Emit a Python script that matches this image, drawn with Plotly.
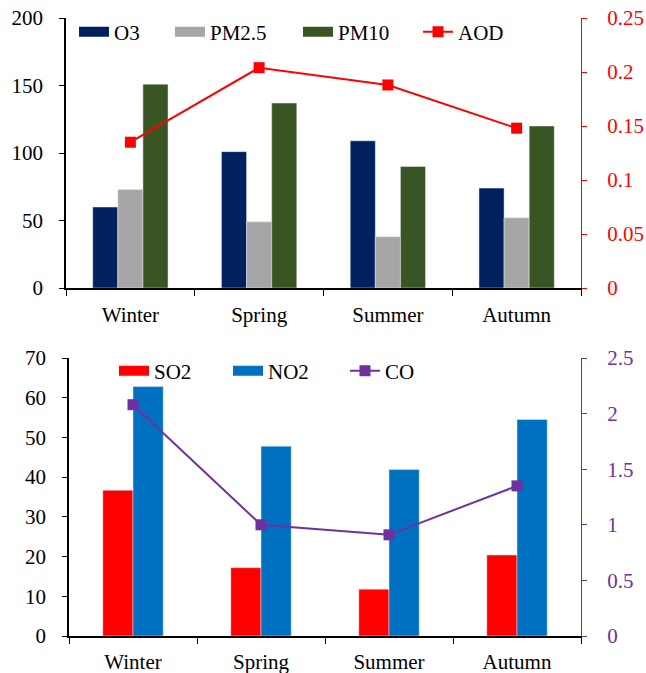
import plotly.graph_objects as go

seasons = ["Winter", "Spring", "Summer", "Autumn"]
o3 = [60, 101, 109, 74]
pm25 = [73, 49, 38, 52]
pm10 = [151, 137, 90, 120]
aod = [0.135, 0.204, 0.188, 0.148]

so2 = [36.7, 17.2, 11.8, 20.4]
no2 = [62.8, 47.8, 41.9, 54.5]
co = [2.08, 1.0, 0.91, 1.35]

FONT = "Liberation Serif"
FS = 21

fig = go.Figure()

bw1 = 0.195
for name, vals, col, off in [("O3", o3, "#002060", -1.5 * bw1),
                             ("PM2.5", pm25, "#A6A6A6", -0.5 * bw1),
                             ("PM10", pm10, "#3A5524", 0.5 * bw1)]:
    fig.add_trace(go.Bar(x=seasons, y=vals, name=name, marker_color=col,
                         width=bw1, offset=off, xaxis="x", yaxis="y",
                         showlegend=False))

fig.add_trace(go.Scatter(x=seasons, y=aod, name="AOD", mode="lines+markers",
                         line=dict(color="#FF0000", width=2),
                         marker=dict(symbol="square", size=11, color="#FF0000"),
                         xaxis="x", yaxis="y2", legend="legend4"))

bw2 = 0.236
for name, vals, col, off in [("SO2", so2, "#FF0000", -bw2),
                             ("NO2", no2, "#0070C0", 0.0)]:
    fig.add_trace(go.Bar(x=seasons, y=vals, name=name, marker_color=col,
                         width=bw2, offset=off, xaxis="x2", yaxis="y3",
                         showlegend=False))

fig.add_trace(go.Scatter(x=seasons, y=co, name="CO", mode="lines+markers",
                         line=dict(color="#7030A0", width=2),
                         marker=dict(symbol="square", size=11, color="#7030A0"),
                         xaxis="x2", yaxis="y4", legend="legend7"))

for name, col, lg, xa, ya in [("O3", "#002060", "legend", "x", "y"),
                              ("PM2.5", "#A6A6A6", "legend2", "x", "y"),
                              ("PM10", "#3A5524", "legend3", "x", "y"),
                              ("SO2", "#FF0000", "legend5", "x2", "y3"),
                              ("NO2", "#0070C0", "legend6", "x2", "y3")]:
    fig.add_trace(go.Scatter(x=[None], y=[None], name=name, mode="lines",
                             line=dict(color=col, width=10),
                             xaxis=xa, yaxis=ya, legend=lg, showlegend=True))

W, H = 646, 673
L, R, T, B = 66, 65, 18, 37
pw = W - L - R
ph = H - T - B


def px_x(p):
    return (p - L) / pw


def px_y(p):
    return (H - B - p) / ph


top_bottom = px_y(288)
bot_top = px_y(358)

tickfont = dict(family=FONT, size=FS, color="black")


def leg(xpix, ypix):
    return dict(x=px_x(xpix), y=px_y(ypix), xanchor="left", yanchor="middle",
                orientation="h", bgcolor="rgba(0,0,0,0)", itemwidth=30,
                font=dict(family=FONT, size=FS, color="black"))


xcommon = dict(type="category", categoryorder="array", categoryarray=seasons,
               showline=True, linecolor="black", linewidth=2, ticks="outside",
               tickson="boundaries", ticklen=6, tickcolor="black", showgrid=False,
               automargin=False, tickfont=tickfont)
ycommon = dict(showline=True, ticks="outside", ticklen=5, showgrid=False,
               zeroline=False, automargin=False)

fig.update_layout(
    width=W, height=H,
    margin=dict(l=L, r=R, t=T, b=B, autoexpand=False),
    paper_bgcolor="white", plot_bgcolor="white",
    font=dict(family=FONT, size=FS, color="black"),
    xaxis=dict(domain=[0, 1], anchor="y", ticklabelstandoff=7, **xcommon),
    yaxis=dict(domain=[top_bottom, 1], anchor="x", range=[0, 200], dtick=50,
               linecolor="black", linewidth=1.5, tickcolor="black",
               tickfont=tickfont, ticklabelstandoff=12, **ycommon),
    yaxis2=dict(overlaying="y", side="right", anchor="x", range=[0, 0.25], dtick=0.05,
                linecolor="#FF0000", linewidth=1, tickcolor="#FF0000",
                tickfont=dict(family=FONT, size=FS, color="#FF0000"),
                ticklabelstandoff=16, **ycommon),
    xaxis2=dict(domain=[px_x(69), 1], anchor="y3", ticklabelstandoff=6, **xcommon),
    yaxis3=dict(domain=[0, bot_top], anchor="x2", range=[0, 70], dtick=10,
                linecolor="black", linewidth=1.5, tickcolor="black",
                tickfont=tickfont, ticklabelstandoff=12, **ycommon),
    yaxis4=dict(overlaying="y3", side="right", anchor="x2", range=[0, 2.5], dtick=0.5,
                linecolor="#7030A0", linewidth=1, tickcolor="#7030A0",
                tickfont=dict(family=FONT, size=FS, color="#7030A0"),
                ticklabelstandoff=16, **ycommon),
    legend=leg(74, 32),
    legend2=leg(170, 32),
    legend3=leg(298, 32),
    legend4=leg(418, 32),
    legend5=leg(114, 371),
    legend6=leg(228, 371),
    legend7=leg(345, 371),
)

fig.write_html("out.html")
